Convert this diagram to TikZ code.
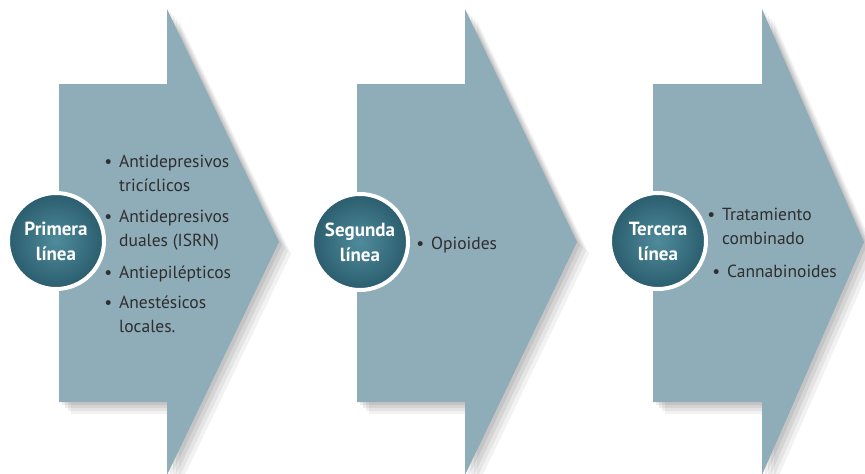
\documentclass[tikz,border=0pt]{standalone}
\usepackage{fontspec}
\setmainfont{PT Sans}
\usetikzlibrary{positioning}

\definecolor{arrowblue}{HTML}{8FACB9}
\definecolor{stagelight}{HTML}{4F8B9C}
\definecolor{stagedark}{HTML}{2A5D6D}
\definecolor{textgray}{HTML}{2E2E2E}

\begin{document}
\begin{tikzpicture}[
    x=1pt, y=-1pt,
    chevron/.style={fill=arrowblue,
      preaction={fill=black, opacity=.07, transform canvas={shift={(3pt,-3pt)}}},
      preaction={fill=black, opacity=.07, transform canvas={shift={(6pt,-6pt)}}},
      preaction={fill=black, opacity=.06, transform canvas={shift={(9pt,-9pt)}}},
      preaction={fill=black, opacity=.05, transform canvas={shift={(12pt,-12pt)}}}},
    stage/.style={circle, draw=white, line width=4pt, inner sep=0pt, minimum size=96pt,
      inner color=stagelight, outer color=stagedark, text=white, align=center,
      font=\fontsize{19}{25}\selectfont\bfseries},
    item/.style={anchor=base west, inner sep=0pt, align=left, text=textgray,
      font=\fontsize{17.5}{24}\selectfont}
  ]

  \useasboundingbox (0,0) rectangle (865,474);
  \clip (0,0) rectangle (865,474);

  % Arrows
  \path[chevron] (59,84) -- (167,84) -- (167,9) -- (279,242) -- (167,475) -- (167,402) -- (59,402) -- cycle;
  \path[chevron] (357,84) -- (465,84) -- (465,9) -- (577,242) -- (465,475) -- (465,402) -- (357,402) -- cycle;
  \path[chevron] (653,84) -- (762,84) -- (762,9) -- (864,242) -- (762,475) -- (762,402) -- (653,402) -- cycle;

  % Stages
  \node[stage] (first) at (56,241) {Primera\\línea};
  \node[stage] (second) at (360,242) {Segunda\\línea};
  \node[stage] (third) at (658,241) {Tercera\\línea};

  % First line drugs (base = last line)
  \node[item] (tricyclic) at (119,191) {\llap{•\hspace{7pt}}Antidepresivos\\tricíclicos};
  \node[item] (dual) at (119,246) {\llap{•\hspace{7pt}}Antidepresivos\\duales (ISRN)};
  \node[item] (antiepileptic) at (119,278) {\llap{•\hspace{7pt}}Antiepilépticos};
  \node[item] (anesthetic) at (119,332) {\llap{•\hspace{7pt}}Anestésicos\\locales.};

  % Second line drugs
  \node[item] (opioid) at (431,249) {\llap{•\hspace{7pt}}Opioides};

  % Third line drugs
  \node[item] (combined) at (722,244) {\llap{•\hspace{7pt}}Tratamiento\\combinado};
  \node[item] (cannabinoid) at (727,277) {\llap{•\hspace{7pt}}Cannabinoides};

\end{tikzpicture}
\end{document}
